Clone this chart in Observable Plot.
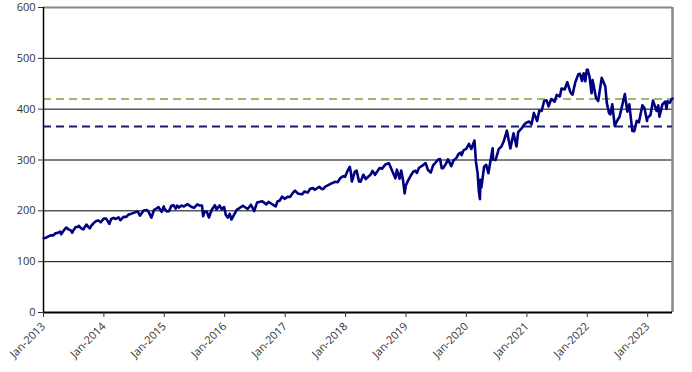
<!DOCTYPE html>
<html><head><meta charset="utf-8">
<script src="https://cdn.jsdelivr.net/npm/d3@7"></script>
<script src="https://cdn.jsdelivr.net/npm/@observablehq/plot@0.6"></script>
<style>
body{margin:0;background:#fff;}
#chart svg{display:block;}
</style>
</head><body><div id="chart"></div>
<script>
const dates = [
"2013-01-02","2013-01-15","2013-01-31","2013-02-15","2013-02-28","2013-03-15","2013-03-28","2013-04-12","2013-04-18","2013-04-30","2013-05-15","2013-05-21","2013-05-31","2013-06-14","2013-06-24","2013-06-28","2013-07-15","2013-07-31","2013-08-02","2013-08-15","2013-08-30","2013-09-18","2013-09-30","2013-10-08","2013-10-15","2013-10-31","2013-11-15","2013-11-29","2013-12-13","2013-12-31",
"2014-01-15","2014-02-03","2014-02-14","2014-02-28","2014-03-14","2014-03-31","2014-04-11","2014-04-30","2014-05-15","2014-05-30","2014-06-13","2014-06-30","2014-07-24","2014-08-07","2014-08-29","2014-09-18","2014-09-30","2014-10-15","2014-10-31","2014-11-14","2014-11-28","2014-12-16","2014-12-29","2014-12-31",
"2015-01-15","2015-01-30","2015-02-13","2015-02-27","2015-03-11","2015-03-20","2015-03-31","2015-04-15","2015-04-30","2015-05-21","2015-06-15","2015-06-30","2015-07-20","2015-07-31","2015-08-17","2015-08-24","2015-08-31","2015-09-15","2015-09-28","2015-10-15","2015-11-03","2015-11-13","2015-12-01","2015-12-14","2015-12-29",
"2016-01-08","2016-01-20","2016-02-01","2016-02-11","2016-02-29","2016-03-15","2016-03-31","2016-04-20","2016-05-19","2016-06-08","2016-06-27","2016-07-15","2016-08-15","2016-09-09","2016-09-22","2016-10-14","2016-11-04","2016-11-15","2016-11-30","2016-12-13","2016-12-30",
"2017-01-13","2017-01-31","2017-02-15","2017-03-01","2017-03-21","2017-04-13","2017-04-28","2017-05-17","2017-06-01","2017-06-19","2017-06-29","2017-07-26","2017-08-10","2017-08-18","2017-08-31","2017-09-15","2017-10-02","2017-10-31","2017-11-15","2017-11-30","2017-12-18","2017-12-29",
"2018-01-12","2018-01-26","2018-02-02","2018-02-08","2018-02-26","2018-03-09","2018-03-23","2018-04-02","2018-04-18","2018-05-03","2018-05-31","2018-06-13","2018-06-28","2018-07-25","2018-08-10","2018-08-29","2018-09-20","2018-10-10","2018-10-29","2018-11-07","2018-11-23","2018-12-03","2018-12-14","2018-12-24","2018-12-31",
"2019-01-15","2019-01-31","2019-02-15","2019-02-28","2019-03-08","2019-03-21","2019-04-15","2019-04-30","2019-05-13","2019-05-31","2019-06-14","2019-07-15","2019-07-26","2019-08-05","2019-08-14","2019-08-30","2019-09-12","2019-10-02","2019-10-15","2019-10-31","2019-11-15","2019-11-29","2019-12-03","2019-12-16","2019-12-31",
"2020-01-17","2020-01-31","2020-02-19","2020-02-28","2020-03-09","2020-03-16","2020-03-23","2020-03-26","2020-04-01","2020-04-17","2020-04-30","2020-05-13","2020-05-29","2020-06-08","2020-06-11","2020-06-26","2020-07-15","2020-07-31","2020-08-14","2020-09-02","2020-09-23","2020-10-12","2020-10-30","2020-11-09","2020-11-30","2020-12-15","2020-12-31",
"2021-01-15","2021-01-29","2021-02-12","2021-03-04","2021-03-17","2021-03-31","2021-04-15","2021-04-30","2021-05-12","2021-05-28","2021-06-18","2021-06-30","2021-07-19","2021-07-29","2021-08-18","2021-08-31","2021-09-02","2021-09-20","2021-09-30","2021-10-04","2021-10-20","2021-11-08","2021-11-18","2021-11-30","2021-12-10","2021-12-20","2021-12-29","2021-12-31",
"2022-01-03","2022-01-14","2022-01-27","2022-02-02","2022-02-23","2022-03-08","2022-03-29","2022-04-20","2022-04-29","2022-05-12","2022-05-20","2022-06-01","2022-06-16","2022-06-30","2022-07-15","2022-08-16","2022-08-31","2022-09-12","2022-09-30","2022-10-12","2022-10-27","2022-11-09","2022-11-30","2022-12-13","2022-12-28","2022-12-30",
"2023-01-18","2023-02-02","2023-02-24","2023-03-06","2023-03-13","2023-03-31","2023-04-18","2023-04-25","2023-05-01","2023-05-15","2023-05-26","2023-05-31"
];
const prices = [
146.1,147,149.7,152,151.6,156,156.7,159,154,159.7,166,167.2,163.5,162,157,160.4,168,168.7,170.7,166,163.6,173,168,165.5,170,175.8,180,181,177.5,184.7,
184.7,174.2,184,186.3,184,187,181.5,188.3,187.8,192.7,194,196,199,190.5,200.7,201.5,197,186.4,201.7,204.2,207.2,197.9,208.7,205.5,
199,199.5,209.8,210.7,204.5,210.4,206.4,210.4,208.5,213.2,207.5,205.9,212.6,210.5,210.6,189.5,197.7,198.5,186.9,202,211,202.5,210.7,203,207.4,
192,186.7,194,182.9,193.6,202.3,205.5,210.1,203.5,212,199.6,216.2,219,212.7,217.6,213,208.6,218.3,220.4,228,223.5,
227.4,227.5,234.9,239.8,233.7,232.5,238.1,235.8,243.4,244.7,241.4,247.4,243.1,242.7,247.5,250,253,257.2,256.4,264.5,268.2,266.9,
278,286.6,275.5,257.6,277,278.9,258,257.5,271,262.6,270.9,278.7,270.9,284,283,291,293.6,278.3,263.9,281,263.2,279.3,260.5,234.3,249.9,
260.4,269.9,277.4,278.7,274.5,284.7,290,294,280.9,275.3,289.3,301,302,283.8,283.9,292.5,301.3,288,299,303.3,311.8,314.3,309.5,319.5,321.9,
331.9,321.7,338.3,296.3,274.2,239.9,222.9,261.2,246.2,286.6,290.5,274,304.3,323.2,300.6,300,321.9,326.5,336.8,357.7,322.6,352.4,326.5,354.6,362.1,369.6,373.9,
375.7,370.1,392.6,376.7,397.3,396.3,415.9,417.3,405.4,420,414.9,428.1,424.9,440.7,439.2,451.6,453.2,434,429.1,428.6,452.4,468.9,469.7,455.6,470.7,455,477.5,475,
477.7,464.7,431.2,457.4,422,416,461.6,444.7,412,392.3,389.6,409.6,366.7,377.3,385,429.7,395.2,409.6,357.2,356.6,377.3,374.1,407.7,402,376.7,382.4,
388.6,416.8,396.4,407.3,385.4,409.4,415,400.6,415.5,413,420,421
];
const upperRef = [420];
const lowerRef = [366];
const yTicks = [0,100,200,300,400,500,600];
const xStart = "2013-01-01", xEnd = "2023-05-31";

const parse = d3.utcParse("%Y-%m-%d");
const series = dates.map((d,i)=>({date: parse(d), value: prices[i]}));
const xDomain = [parse(xStart), parse(xEnd)];
const xTicks = d3.utcYear.range(parse("2013-01-01"), parse("2023-02-01"));

const font = "'Open Sans', 'DejaVu Sans', sans-serif";
const chart = Plot.plot({
  width: 692, height: 372,
  marginLeft: 43, marginRight: 20, marginTop: 7, marginBottom: 60,
  style: {fontFamily: font, fontSize: "11px", color: "#333", background: "#fff"},
  x: {type: "utc", domain: xDomain},
  y: {domain: [0, 600]},
  marks: [
    Plot.ruleY(yTicks.filter(v=>v>0 && v<600), {stroke: "#000", strokeWidth: 1}),
    Plot.ruleY([600], {stroke: "#888", strokeWidth: 2}),
    Plot.ruleX([xDomain[1]], {stroke: "#888", strokeWidth: 2.5}),
    Plot.ruleY(upperRef, {stroke: "#9cb86a", strokeWidth: 2, strokeDasharray: "8,5"}),
    Plot.ruleY(lowerRef, {stroke: "#1a1a6e", strokeWidth: 2, strokeDasharray: "8,5"}),
    Plot.line(series, {x: "date", y: "value", stroke: "#000080", strokeWidth: 2.6, curve: "linear"}),
    Plot.ruleX([xDomain[0]], {stroke: "#000", strokeWidth: 1.5}),
    Plot.ruleY([0], {stroke: "#000", strokeWidth: 2}),
    Plot.axisY({ticks: yTicks, tickSize: 5, tickPadding: 3, label: null, tickFormat: d3.format("d")}),
    Plot.axisX({ticks: xTicks, tickSize: 5, tickPadding: 7, tickRotate: -45, label: null, tickFormat: d3.utcFormat("%b-%Y")})
  ]
});
document.getElementById("chart").appendChild(chart);
</script>
</body></html>
